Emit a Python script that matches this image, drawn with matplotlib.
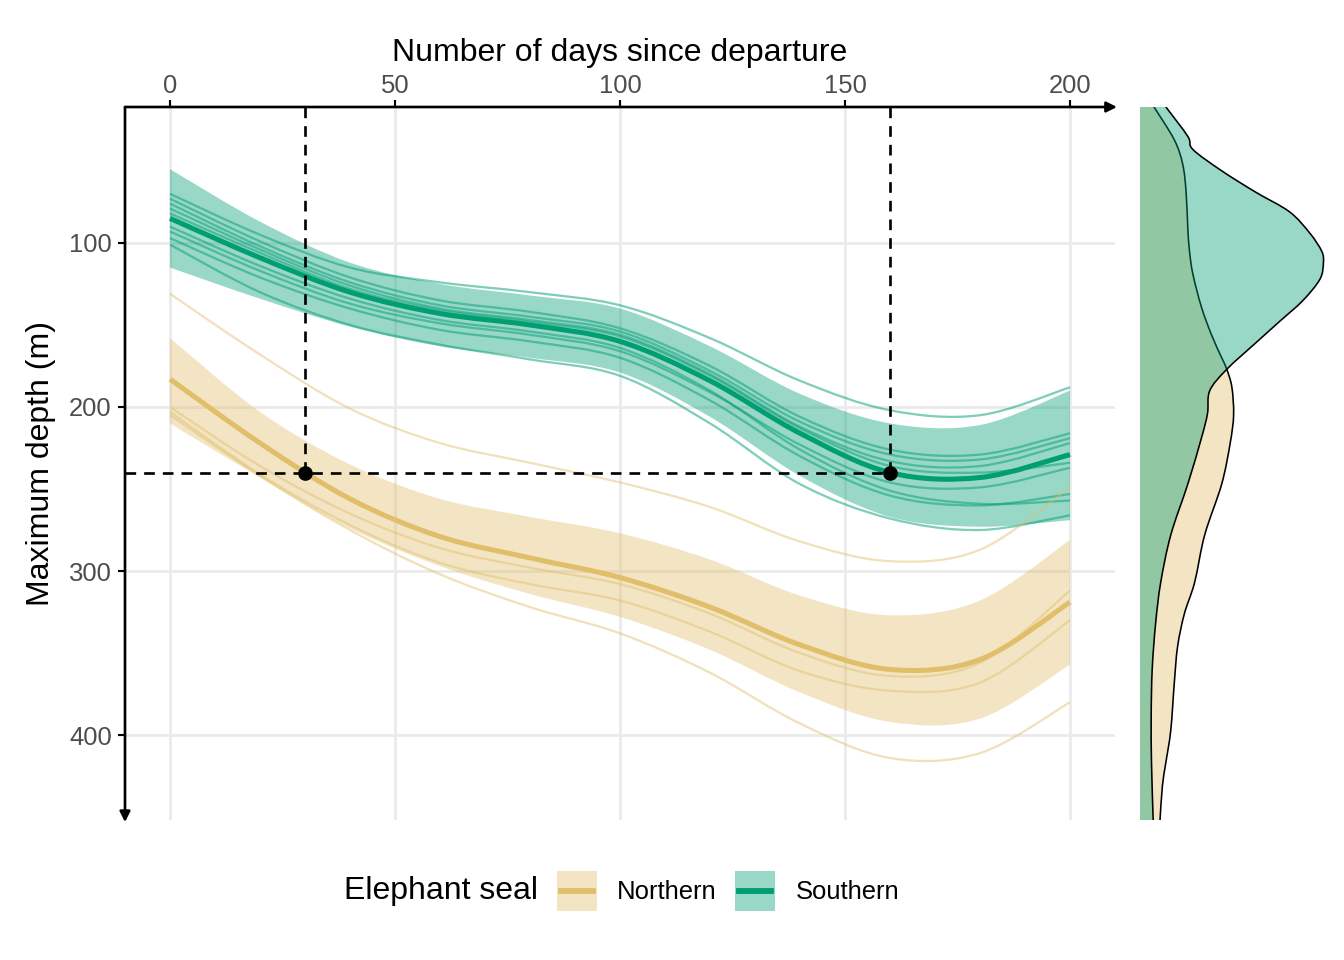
import numpy as np
import matplotlib
matplotlib.use("Agg")
import matplotlib.pyplot as plt
from matplotlib.path import Path
from matplotlib.patches import PathPatch, Patch
from matplotlib.lines import Line2D
from matplotlib.legend_handler import HandlerTuple, HandlerLine2D

plt.rcParams['font.family'] = ['Liberation Sans', 'DejaVu Sans']

# --- data ---
days = [0, 20, 40, 60, 80, 100, 120, 140, 160, 180, 200]

south_mean = [85, 109, 130, 143, 150, 160, 184, 216, 240, 243, 229]
south_lo = [55, 87, 112, 125, 132, 140, 163, 192, 210, 211, 190]
south_hi = [115, 134, 151, 163, 170, 179, 206, 242, 267, 273, 269]
south_seals = [
    [70, 95, 115, 124, 130, 138, 158, 184, 202, 205, 188],
    [101, 130, 150, 162, 171, 181, 210, 247, 268, 275, 266],
    [73, 99, 121, 135, 142, 152, 175, 206, 226, 229, 216],
    [76, 102, 124, 138, 145, 154, 178, 209, 229, 232, 219],
    [79, 104, 126, 140, 147, 156, 180, 212, 233, 236, 222],
    [82, 106, 128, 141, 148, 157, 181, 213, 236, 240, 234],
    [93, 117, 137, 149, 156, 166, 191, 223, 246, 249, 237],
    [97, 121, 140, 153, 160, 170, 196, 230, 254, 260, 253],
    [90, 114, 134, 147, 154, 164, 190, 226, 251, 259, 257],
]

north_mean = [183, 222, 256, 279, 292, 304, 322, 345, 360, 354, 319]
north_lo = [158, 203, 235, 256, 267, 277, 293, 315, 327, 318, 281]
north_hi = [210, 243, 274, 297, 314, 328, 348, 374, 392, 390, 357]
north_seals = [
    [131, 168, 201, 222, 234, 246, 261, 282, 294, 287, 249],
    [205, 242, 275, 302, 322, 338, 362, 393, 414, 411, 380],
    [200, 236, 265, 286, 298, 308, 326, 350, 364, 356, 312],
    [203, 241, 272, 295, 308, 318, 337, 361, 373, 368, 330],
]

# marginal densities of max depth (arbitrary units)
south_dens_depth = [17, 35, 43, 56, 69, 81, 94, 105, 112, 122, 135, 148, 161, 177,
                    190, 204, 219, 247, 278, 307, 332, 360, 388, 417, 452]
south_dens = [25.8, 47.8, 52.9, 81.7, 115.6, 149.5, 169.8, 181.7, 183.4, 180, 163,
              139.3, 115.6, 86.8, 69.8, 67.5, 61.4, 47.8, 30.8, 20.7, 15.6, 12.2,
              11.2, 11.5, 13.2]
north_dens_depth = [17, 37, 52, 69, 91, 105, 119, 139, 156, 170, 177, 188, 205, 222,
                    247, 278, 307, 326, 346, 369, 397, 417, 431, 452]
north_dens = [13.9, 34.2, 42.7, 46.1, 47.8, 49.5, 52.9, 61.4, 71.5, 81.7, 86.8, 91.9,
              93.6, 90.2, 81.7, 64.7, 54.6, 44.4, 37.6, 34.2, 30.8, 25.8, 22.4, 20]

ref_days = [30, 160]
ref_depth = 240

north_col = '#E1BE6A'
south_col = '#009E73'


def smooth_verts(xs, ys):
    # Catmull-Rom through the points, drawn as cubic Bezier segments
    p = np.column_stack([xs, ys]).astype(float)
    verts = [p[0]]
    codes = [Path.MOVETO]
    for i in range(len(p) - 1):
        p0 = p[max(i - 1, 0)]
        p1, p2 = p[i], p[i + 1]
        p3 = p[min(i + 2, len(p) - 1)]
        verts += [p1 + (p2 - p0) / 6, p2 - (p3 - p1) / 6, p2]
        codes += [Path.CURVE4] * 3
    return verts, codes


def draw_line(ax, xs, ys, **kw):
    v, c = smooth_verts(xs, ys)
    ax.add_patch(PathPatch(Path(v, c), fill=False, capstyle='butt', **kw))


def draw_ribbon(ax, xs, lo, hi, **kw):
    v1, c1 = smooth_verts(xs, lo)
    v2, c2 = smooth_verts(xs[::-1], hi[::-1])
    c2[0] = Path.LINETO
    ax.add_patch(PathPatch(Path(v1 + v2 + [v1[0]], c1 + c2 + [Path.CLOSEPOLY]),
                           lw=0, **kw))


def draw_density(ax, dens, depth, color):
    v, c = smooth_verts(dens, depth)
    c[0] = Path.LINETO
    verts = [(0, depth[0])] + v + [(0, depth[-1]), (0, depth[0])]
    codes = [Path.MOVETO] + c + [Path.LINETO, Path.CLOSEPOLY]
    ax.add_patch(PathPatch(Path(verts, codes), facecolor=color, alpha=0.4, lw=0))
    draw_line(ax, dens, depth, edgecolor='black', lw=0.6)


class CenteredLine(HandlerLine2D):
    # put the key line in the middle of the key box, slightly inset
    def create_artists(self, legend, orig_handle, xdescent, ydescent,
                       width, height, fontsize, trans):
        arts = super().create_artists(legend, orig_handle, xdescent, ydescent,
                                      width, height, fontsize, trans)
        for a in arts:
            xd = np.linspace(-xdescent + 0.1 * width, -xdescent + 0.9 * width, 2)
            a.set_xdata(xd)
            a.set_ydata(np.full(2, height / 2 - ydescent))
        return arts


fig = plt.figure(figsize=(7, 5), dpi=192)
ax = fig.add_axes([125 / 1344, 1 - 820 / 960, 990 / 1344, 713 / 960])
axd = fig.add_axes([1140 / 1344, 1 - 820 / 960, 194 / 1344, 713 / 960])

ax.set_xlim(-10, 210)
ax.set_ylim(451.8, 17.1)

# ribbons, individual seals, then group means
draw_ribbon(ax, days, north_lo, north_hi, facecolor=north_col, alpha=0.4, zorder=2)
draw_ribbon(ax, days, south_lo, south_hi, facecolor=south_col, alpha=0.4, zorder=2)
for s in south_seals:
    draw_line(ax, days, s, edgecolor=south_col, alpha=0.5, lw=0.85, zorder=3)
for s in north_seals:
    draw_line(ax, days, s, edgecolor=north_col, alpha=0.45, lw=0.85, zorder=3)
draw_line(ax, days, north_mean, edgecolor=north_col, lw=1.9, zorder=4)
draw_line(ax, days, south_mean, edgecolor=south_col, lw=1.9, zorder=4)

# reference lines
ax.vlines(ref_days, ax.get_ylim()[1], ref_depth, colors='black', lw=1.0,
          linestyles=(0, (4, 3)), zorder=5)
ax.hlines(ref_depth, ax.get_xlim()[0], max(ref_days), colors='black', lw=1.0,
          linestyles=(0, (4, 3)), zorder=5)
ax.plot(ref_days, [ref_depth] * len(ref_days), 'o', color='black', ms=4.5, zorder=6)

# axes styling
ax.set_xticks([0, 50, 100, 150, 200])
ax.set_yticks([100, 200, 300, 400])
ax.grid(color='#EBEBEB', lw=1.07)
ax.set_axisbelow(True)
for sp in ax.spines.values():
    sp.set_visible(False)
ax.xaxis.tick_top()
ax.xaxis.set_label_position('top')
ax.tick_params(axis='both', length=2.75, width=0.8, color='black',
               labelsize=9.6, labelcolor='#4D4D4D', pad=2.2)
ax.tick_params(axis='x', pad=0.6)
ax.set_xlabel('Number of days since departure', fontsize=12, labelpad=5)
ax.set_ylabel('Maximum depth (m)', fontsize=12, labelpad=5)

arrow = dict(arrowstyle='-|>', lw=1.0, color='black', shrinkA=0, shrinkB=0,
             mutation_scale=8)
ax.annotate('', xy=(1.002, 1), xytext=(0, 1), xycoords='axes fraction',
            arrowprops=arrow, annotation_clip=False)
ax.annotate('', xy=(0, -0.003), xytext=(0, 1), xycoords='axes fraction',
            arrowprops=arrow, annotation_clip=False)

# marginal density panel
draw_density(axd, north_dens, north_dens_depth, north_col)
draw_density(axd, south_dens, south_dens_depth, south_col)
axd.set_xlim(0, 194)
axd.set_ylim(451.8, 17.1)
axd.axis('off')

# legend
handles = [(Patch(facecolor=north_col, alpha=0.4, lw=0), Line2D([], [], color=north_col, lw=2.2)),
           (Patch(facecolor=south_col, alpha=0.4, lw=0), Line2D([], [], color=south_col, lw=2.2))]
fig.legend(handles, ['Northern', 'Southern'], ncol=2, loc='center left',
           bbox_to_anchor=(557 / 1344, 1 - 891 / 960), frameon=False,
           fontsize=9.6, borderpad=0, borderaxespad=0,
           handlelength=1.56, handleheight=2.0, handletextpad=0.78,
           columnspacing=0.74,
           handler_map={tuple: HandlerTuple(ndivide=1), Line2D: CenteredLine()})
fig.text(344 / 1344, 1 - 891 / 960, 'Elephant seal', fontsize=12, va='center', ha='left')

fig.savefig('out.png', dpi=192)
